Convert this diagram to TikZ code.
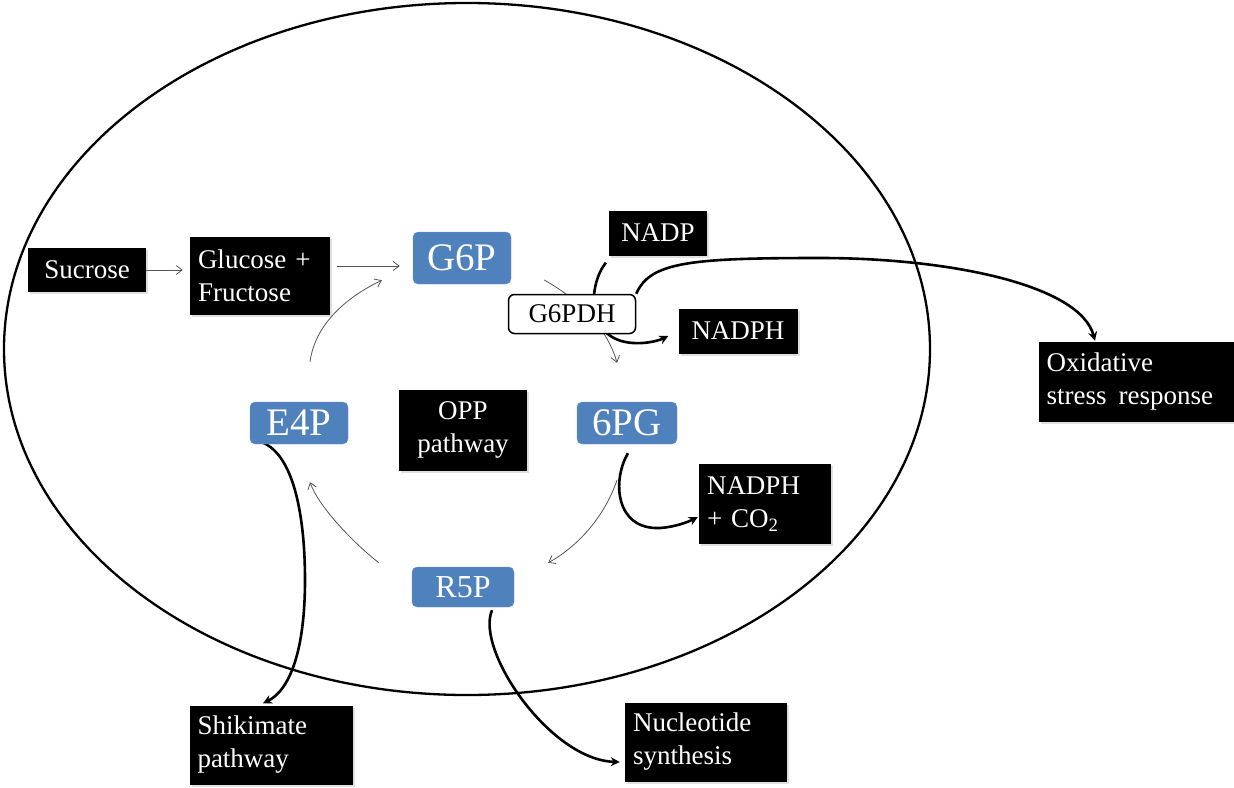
\documentclass[tikz,border=0pt]{standalone}
\usepackage{fontspec}
\setmainfont{Liberation Serif}
\newfontfamily\tnr{Liberation Serif}
\usetikzlibrary{arrows.meta,calc,backgrounds,shadows}
\definecolor{metblue}{HTML}{4F81BD}
\definecolor{thingray}{HTML}{555555}
\begin{document}
\begin{tikzpicture}[x=1pt,y=-1pt,
  blk/.style={fill=black,text=white,inner xsep=8pt,inner ysep=0pt,
    font=\tnr\fontsize{27}{33}\selectfont,
    drop shadow={opacity=0.25,shadow xshift=2pt,shadow yshift=-2pt}},
  met/.style={fill=metblue,draw=metblue!80!white,rounded corners=5pt,text=white,
    inner sep=0pt,font=\tnr\fontsize{39}{40}\selectfont},
  enz/.style={fill=white,draw=black,line width=1.5pt,rounded corners=6pt,
    inner sep=0pt,font=\tnr\fontsize{27}{30}\selectfont},
  thinarr/.style={draw=thingray,line width=0.8pt,-{Straight Barb[length=6pt,width=9pt]}},
  thickarr/.style={draw=black,line width=2.6pt,-{Stealth[length=9pt,width=9pt]}}]
\useasboundingbox (0,0) rectangle (1234,787);

% nodes
\node[blk,minimum width=118pt,minimum height=44pt] (suc) at (87,270) {Sucrose};
\node[blk,minimum width=140pt,minimum height=78pt,text width=124pt,align=left] (glu) at (260,276) {Glucose +\\Fructose};
\node[met,minimum width=98pt,minimum height=52pt] (g6p) at (462,258) {G6P};
\node[blk,minimum width=98pt,minimum height=45pt] (nadp) at (658,233) {NADP};
\node[enz,minimum width=127pt,minimum height=39pt] (g6pdh) at (572,314) {G6PDH};
\node[blk,minimum width=119pt,minimum height=45pt] (nadph) at (738,331) {NADPH};
\node[blk,minimum width=195pt,minimum height=80pt,text width=179pt,align=left] (oxi) at (1136,382) {Oxidative\\stress\hspace{0.45em}response};
\node[met,minimum width=100pt,minimum height=42pt] (pg6) at (627,423) {6PG};
\node[blk,minimum width=132pt,minimum height=80pt,text width=116pt,align=left] (nadco) at (765,504) {NADPH\\+ CO\textsubscript{2}};
\node[met,minimum width=98pt,minimum height=42pt] (e4p) at (299,423) {E4P};
\node[blk,minimum width=128pt,minimum height=81pt,align=center] (opp) at (463,430) {OPP\\pathway};
\node[met,minimum width=102pt,minimum height=40pt,font=\tnr\fontsize{32}{34}\selectfont] (r5p) at (463,587) {R5P};
\node[blk,minimum width=163pt,minimum height=79pt,text width=147pt,align=left] (shik) at (271,745) {Shikimate\\pathway};
\node[blk,minimum width=162pt,minimum height=79pt,text width=146pt,align=left] (nuc) at (706,742) {Nucleotide\\synthesis};

\begin{pgfonlayer}{background}
% cell
\draw[line width=2.3pt] (467,349) ellipse [x radius=463pt, y radius=346pt];
% thin pathway arrows
\draw[thinarr] (suc.east) -- ($(suc.east -| glu.west)+(-7,0)$);
\draw[thinarr] ($(glu.east)+(7,-10)$) -- ($(g6p.west)+(-13,8)$);
\draw[thinarr] ($(e4p.north)+(11,-40)$) .. controls (315,325) and (345,298) .. ($(g6p.south west)+(-31,-4)$);
\draw[thinarr] ($(g6p.east)+(33,22)$) .. controls (580,300) and (608,330) .. ($(pg6.north)+(-10,-39)$);
\draw[thinarr] ($(pg6.south)+(-10,36)$) .. controls (605,515) and (580,545) .. ($(r5p.north east)+(34,-4)$);
\draw[thinarr] ($(r5p.north west)+(-33,-4)$) .. controls (350,540) and (318,505) .. ($(e4p.south)+(11,38)$);
% thick arrows
\draw[thickarr] ($(nadp.south west)+(-3,7)$) .. controls (588,285) and (585,340) .. (633,343) .. controls (648,344) and (660,340) .. ($(nadph.west)+(-10,5)$);
\draw[thickarr] (g6pdh.north east) .. controls (650,262) and (690,258) .. (820,258) .. controls (950,258) and (1080,285) .. ($(oxi.north)+(-41,-1)$);
\draw[thickarr] ($(pg6.south)+(1,9)$) .. controls (612,480) and (615,530) .. (660,528) .. controls (675,527) and (688,522) .. ($(nadco.west)+(-1,13)$);
\draw[thickarr] ($(e4p.south west)+(12,-2)$) .. controls (295,455) and (305,520) .. (305,580) .. controls (305,650) and (290,690) .. ($(shik.north)+(-8,-2)$);
\draw[thickarr] ($(r5p.south)+(29,3)$) .. controls (475,650) and (550,760) .. ($(nuc.west)+(-5,20)$);
\end{pgfonlayer}
\end{tikzpicture}
\end{document}
